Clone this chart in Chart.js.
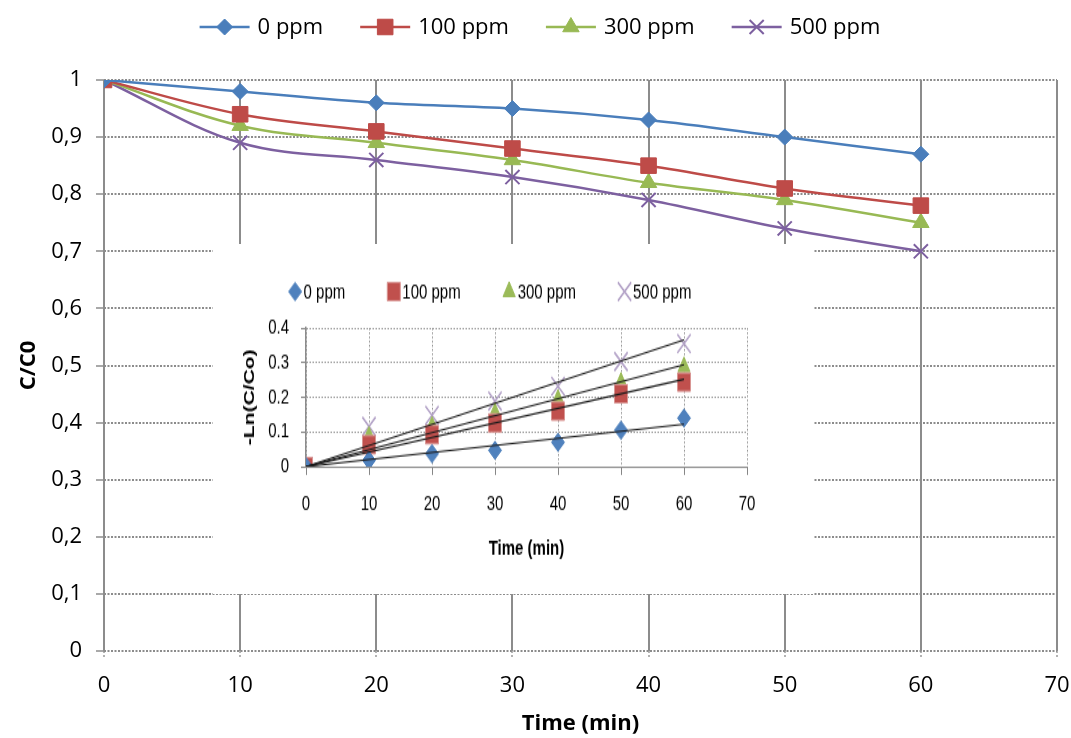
<!DOCTYPE html>
<html><head><meta charset="utf-8">
<script src="https://cdn.jsdelivr.net/npm/chart.js@4.4.1/dist/chart.umd.min.js"></script>
<style>
html,body{margin:0;padding:0;background:#fff;}
#wrap{position:relative;width:1071px;height:738px;overflow:hidden;}
#main{position:absolute;left:0;top:0;}
#inset{position:absolute;left:213px;top:244px;background:#fff;transform:scaleY(1.4);transform-origin:0 0;}
</style></head><body>
<div id="wrap"><canvas id="main" width="1071" height="738"></canvas><canvas id="inset" width="600" height="250"></canvas></div>
<script>
// ---- data ----
const times = [0, 10, 20, 30, 40, 50, 60];
const seriesNames = ['0 ppm', '100 ppm', '300 ppm', '500 ppm'];
const c0ppm   = [1, 0.98, 0.96, 0.95, 0.93, 0.90, 0.87];
const c100ppm = [1, 0.94, 0.91, 0.88, 0.85, 0.81, 0.78];
const c300ppm = [1, 0.92, 0.89, 0.86, 0.82, 0.79, 0.75];
const c500ppm = [1, 0.89, 0.86, 0.83, 0.79, 0.74, 0.70];
const yTickLabels = ['0', '0,1', '0,2', '0,3', '0,4', '0,5', '0,6', '0,7', '0,8', '0,9', '1'];
const xTickLabels = ['0', '10', '20', '30', '40', '50', '60', '70'];

const ln0ppm   = [0, 0.018, 0.037, 0.047, 0.07, 0.105, 0.14];
const ln100ppm = [0, 0.063, 0.092, 0.126, 0.16, 0.21, 0.244];
const ln300ppm = [0, 0.087, 0.116, 0.155, 0.194, 0.243, 0.288];
const ln500ppm = [0, 0.116, 0.148, 0.189, 0.232, 0.303, 0.355];
const trendTimes = [0, 60];
const trend0ppm   = [0, 0.122];
const trend100ppm = [0, 0.252];
const trend300ppm = [0, 0.294];
const trend500ppm = [0, 0.366];
const insetYTickLabels = ['0', '0.1', '0.2', '0.3', '0.4'];
const insetXTickLabels = ['0', '10', '20', '30', '40', '50', '60', '70'];

// ---- helpers ----
const pts = (xs, ys) => xs.map((x, i) => ({x: x, y: ys[i]}));
const MAINFONT = '"Open Sans", sans-serif';
const INFONT = '"Liberation Sans", Arial, sans-serif';

const customLegend = {
  id: 'customLegend',
  afterDraw(chart, args, o) {
    const ctx = chart.ctx;
    const items = chart.data.datasets.filter(d => !d.hideInLegend);
    ctx.save();
    ctx.font = o.font;
    ctx.textBaseline = 'middle';
    ctx.textAlign = 'left';
    const widths = items.map(d => o.markLen + o.textGap + ctx.measureText(d.label).width);
    const total = widths.reduce((a, b) => a + b, 0) + o.itemGap * (items.length - 1);
    let x = o.centerX - total / 2;
    items.forEach((d, i) => {
      const mx = x + o.markLen / 2;
      if (o.showLine) {
        ctx.strokeStyle = d.borderColor;
        ctx.lineWidth = d.borderWidth;
        ctx.beginPath(); ctx.moveTo(x, o.y); ctx.lineTo(x + o.markLen, o.y); ctx.stroke();
      }
      ctx.fillStyle = d.pointBackgroundColor || d.backgroundColor;
      ctx.strokeStyle = d.pointBorderColor || d.borderColor;
      ctx.lineWidth = d.pointBorderWidth;
      Chart.helpers.drawPoint(ctx, {pointStyle: d.pointStyle, rotation: 0, radius: d.pointRadius, borderWidth: d.pointBorderWidth}, mx, o.y);
      ctx.fillStyle = '#000';
      ctx.fillText(d.label, x + o.markLen + o.textGap, o.y + 1);
      x += widths[i] + o.itemGap;
    });
    ctx.restore();
  }
};

const mainColors = ['#4A7EBB', '#BE4B48', '#98B954', '#7D60A0'];
const mainStyles = ['rectRot', 'rect', 'triangle', 'crossRot'];
const mainRadius = [8, 11, 9.5, 10];
const mainData = [c0ppm, c100ppm, c300ppm, c500ppm];

new Chart(document.getElementById('main'), {
  type: 'line',
  data: {
    datasets: mainData.map((arr, i) => ({
      label: seriesNames[i],
      data: pts(times, arr),
      borderColor: mainColors[i],
      backgroundColor: mainColors[i],
      pointBackgroundColor: mainColors[i],
      pointBorderColor: mainColors[i],
      pointStyle: mainStyles[i],
      pointRadius: mainRadius[i],
      pointBorderWidth: i === 3 ? 2 : 1,
      borderWidth: 2.5,
      tension: 0.35,
      fill: false
    }))
  },
  options: {
    responsive: false, animation: false, devicePixelRatio: 1,
    layout: {padding: {top: 80, right: 14, left: 0, bottom: 0}},
    plugins: {
      legend: {display: false}, tooltip: {enabled: false},
      customLegend: {font: '22px ' + MAINFONT, markLen: 50, textGap: 8, itemGap: 37, centerX: 540, y: 27, showLine: true}
    },
    scales: {
      x: {
        type: 'linear', min: 0, max: 70,
        ticks: {stepSize: 10, callback: (v, i) => xTickLabels[i], color: '#000', font: {family: MAINFONT, size: 22}, padding: 14, maxRotation: 0},
        grid: {color: '#8c8c8c', lineWidth: 2, tickLength: 8, tickColor: '#9a9a9a', tickWidth: 1.5, tickBorderDash: [2, 2]},
        border: {display: false},
        title: {display: true, text: 'Time (min)', color: '#000', font: {family: MAINFONT, size: 22, weight: 'bold'}, padding: {top: 0, bottom: 1}},
        afterFit(s) { s.height = 87; s.paddingLeft = 0; s.paddingRight = 0; }
      },
      y: {
        type: 'linear', min: 0, max: 1,
        ticks: {stepSize: 0.1, callback: (v, i) => yTickLabels[i], color: '#000', font: {family: MAINFONT, size: 22}, padding: 14},
        grid: {color: '#8c8c8c', lineWidth: 2, tickLength: 8, tickColor: '#8c8c8c', tickBorderDash: [], tickWidth: 1.5},
        border: {display: false, dash: [2, 1.5]},
        title: {display: true, text: 'C/C0', color: '#000', font: {family: MAINFONT, size: 22, weight: 'bold'}, padding: {top: 16, bottom: 0}},
        afterFit(s) { s.width = 104; s.paddingTop = 0; s.paddingBottom = 0; }
      }
    }
  },
  plugins: [customLegend]
});

// ---- inset (drawn in a canvas that is stretched vertically by CSS) ----
const insetColors = ['#4F81BD', '#C0504D', '#9BBB59', '#B3A2C7'];
const insetBorders = ['#4F81BD', '#D99694', '#9BBB59', '#B3A2C7'];
const insetStyles = ['rectRot', 'rect', 'triangle', 'crossRot'];
const insetRadius = [6.5, 9.2, 7, 9.4];
const insetData = [ln0ppm, ln100ppm, ln300ppm, ln500ppm];
const trendData = [trend0ppm, trend100ppm, trend300ppm, trend500ppm];

const insetSets = insetData.map((arr, i) => ({
  label: seriesNames[i],
  data: pts(times, arr),
  showLine: false,
  borderColor: insetColors[i],
  backgroundColor: insetColors[i],
  pointBackgroundColor: insetColors[i],
  pointBorderColor: insetBorders[i],
  pointStyle: insetStyles[i],
  pointRadius: insetRadius[i],
  pointBorderWidth: i === 3 ? 1.5 : 1,
  borderWidth: 1,
  order: 2
})).concat(trendData.map((arr, i) => ({
  label: 'trend ' + seriesNames[i],
  hideInLegend: true,
  data: pts(trendTimes, arr),
  showLine: true,
  borderColor: '#1a1a1a',
  borderWidth: 1.1,
  pointRadius: 0,
  order: 1
})));

new Chart(document.getElementById('inset'), {
  type: 'line',
  data: {datasets: insetSets},
  options: {
    responsive: false, animation: false, devicePixelRatio: 1,
    layout: {padding: {top: 60, right: 66, left: 0, bottom: 0}},
    plugins: {
      legend: {display: false}, tooltip: {enabled: false},
      customLegend: {font: '15px ' + INFONT, markLen: 13, textGap: 2, itemGap: 42, centerX: 277, y: 34, showLine: false}
    },
    scales: {
      x: {
        type: 'linear', min: 0, max: 70,
        ticks: {stepSize: 10, callback: (v, i) => insetXTickLabels[i], color: '#000', font: {family: INFONT, size: 15}, padding: 12, maxRotation: 0},
        grid: {color: '#999999', lineWidth: 1, tickLength: 6, tickColor: '#868686', tickBorderDash: [], tickWidth: 1},
        border: {display: true, color: '#8c8c8c', width: 1, dash: [1.5, 1.5]},
        title: {display: true, text: 'Time (min)', color: '#000', font: {family: INFONT, size: 15, weight: 'bold'}, padding: {top: 0, bottom: 23}},
        afterFit(s) { s.height = 91; s.paddingLeft = 0; s.paddingRight = 0; }
      },
      y: {
        type: 'linear', min: 0, max: 0.4,
        ticks: {stepSize: 0.1, callback: (v, i) => insetYTickLabels[i], color: '#000', font: {family: INFONT, size: 15}, padding: 12},
        grid: {color: '#999999', lineWidth: 1, tickLength: 5, tickColor: '#868686', tickBorderDash: [], tickWidth: 1},
        border: {display: true, color: '#8c8c8c', width: 1.5, dash: [1.5, 1.5]},
        title: {display: true, text: '-Ln(C/Co)', color: '#000', font: {family: INFONT, size: 15, weight: 'bold'}, padding: {top: 28, bottom: 0}},
        afterFit(s) { s.width = 93; s.paddingTop = 0; s.paddingBottom = 0; }
      }
    }
  },
  plugins: [customLegend]
});
</script>
</body></html>
